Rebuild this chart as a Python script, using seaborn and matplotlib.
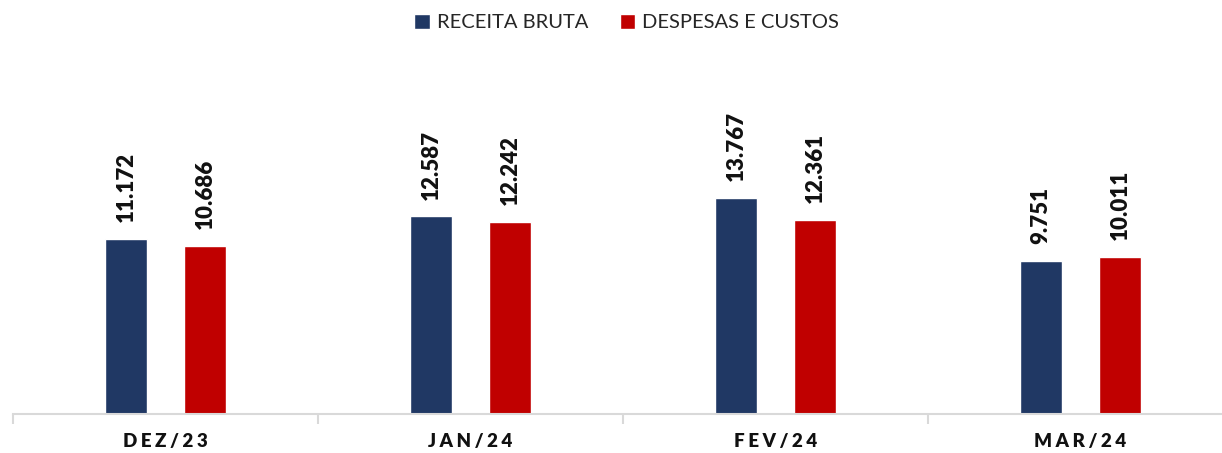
import matplotlib
matplotlib.use("Agg")
import matplotlib.pyplot as plt
import seaborn as sns
import pandas as pd
from matplotlib.patches import Patch
from matplotlib.ticker import FixedLocator

meses = ["DEZ/23", "JAN/24", "FEV/24", "MAR/24"]
receita_bruta = [11172, 12587, 13767, 9751]
despesas_custos = [10686, 12242, 12361, 10011]
series = ["RECEITA BRUTA", "DESPESAS E CUSTOS"]
cores = ["#203864", "#C00000"]

df = pd.DataFrame({
    "Mes": meses * 2,
    "Serie": [series[0]] * 4 + [series[1]] * 4,
    "Valor": receita_bruta + despesas_custos,
})

sns.set_style("white")
plt.rcParams["font.family"] = ["Lato", "DejaVu Sans"]

W, H = 1222, 453
fig = plt.figure(figsize=(W / 100, H / 100), dpi=100)
# axes in pixel coords: x from 13 to 1222, baseline at y=413.5
ax = fig.add_axes([13 / W, (H - 413.5) / H, 1209 / W, 413.5 / H])

sns.barplot(data=df, x="Mes", y="Valor", hue="Serie", palette=cores,
            width=0.517, gap=0.465, ax=ax, legend=False, saturation=1)

ax.set_xlim(-0.5, -0.5 + 1209 / 305)
ax.set_ylim(0, 413.5 / 15.66 * 1000)

for cont in ax.containers:
    labels = [f"{v:,.0f}".replace(",", ".") for v in cont.datavalues]
    ax.bar_label(cont, labels=labels, rotation=90, padding=12,
                 fontsize=16, fontweight="heavy", color="#111111")

for s in ["top", "right", "left"]:
    ax.spines[s].set_visible(False)
ax.spines["bottom"].set_color("#d9d9d9")
ax.spines["bottom"].set_linewidth(1.5)

ax.set_yticks([])
ax.set_xlabel("")
ax.set_ylabel("")
ax.set_xticks(range(4))
ax.set_xticklabels(["\u2009\u200a".join(m) for m in meses], fontsize=13.5,
                   fontweight="heavy", color="#111111")
ax.tick_params(axis="x", which="major", length=0, pad=14)
ax.xaxis.set_minor_locator(FixedLocator([-0.5, 0.5, 1.5, 2.5, 3.5]))
ax.tick_params(axis="x", which="minor", bottom=True, length=7,
               width=1.5, color="#d9d9d9", direction="out")

handles = [Patch(facecolor=c, label=s) for c, s in zip(cores, series)]
fig.legend(handles=handles, loc="upper center", bbox_to_anchor=(0.513, 1.0),
           ncol=2, frameon=False, fontsize=14.5, handlelength=0.75,
           handleheight=0.75, handletextpad=0.35, columnspacing=1.6,
           borderaxespad=0.3)

fig.savefig("out.png", dpi=100)
